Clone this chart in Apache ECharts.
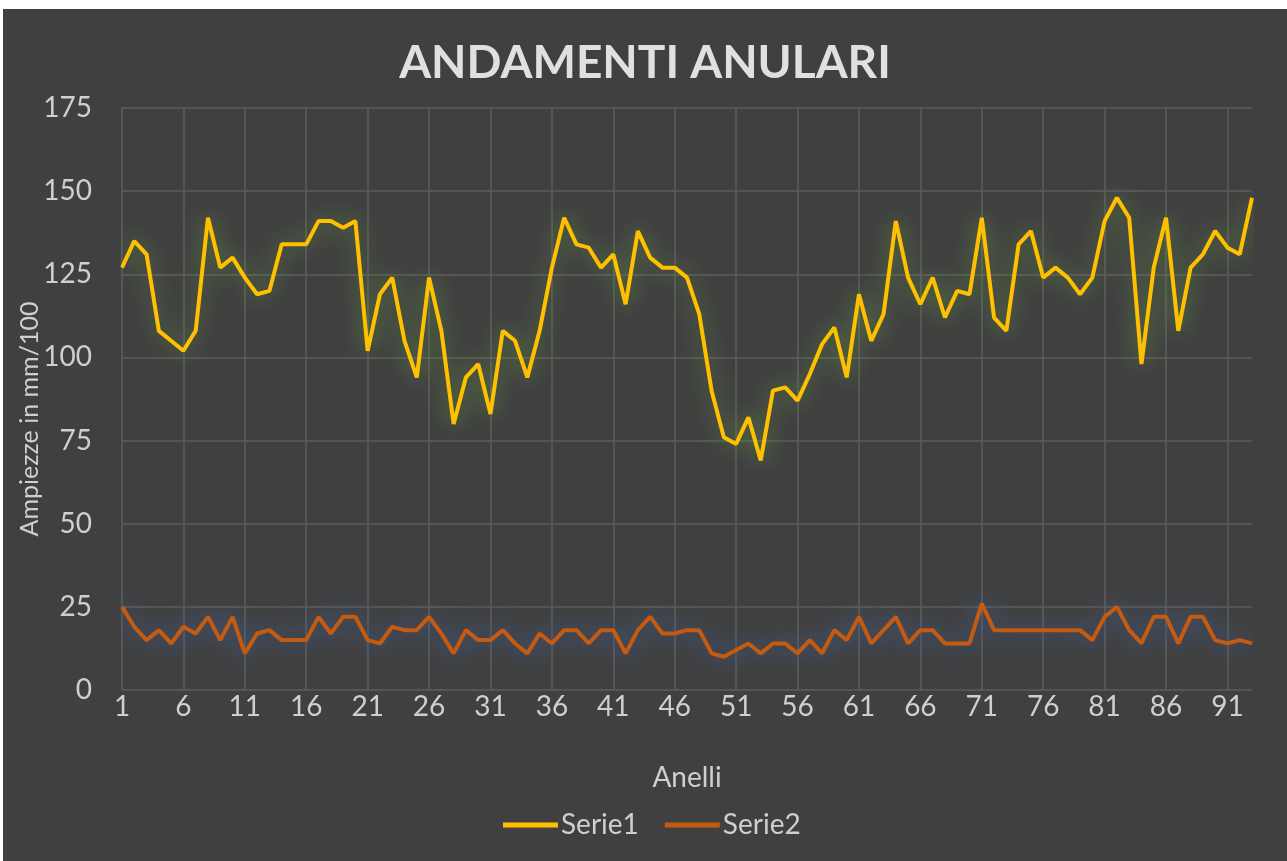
<!DOCTYPE html>
<html>
<head>
<meta charset="utf-8">
<title>Andamenti anulari</title>
<script src="https://cdn.jsdelivr.net/npm/echarts@6/dist/echarts.min.js"></script>
<style>
  html, body { margin: 0; padding: 0; background: #fff; }
  #main { position: absolute; left: 3px; top: 9px; width: 1284px; height: 852px; background: #404040; }
</style>
</head>
<body>
<div id="main"></div>
<script>
// anelli 1..93
var anelli = [];
for (var i = 1; i <= 93; i++) anelli.push(String(i));

var serie1 = [127, 135, 131, 108, 105, 102, 108, 142, 127, 130,
              124, 119, 120, 134, 134, 134, 141, 141, 139, 141,
              102, 119, 124, 105, 94, 124, 108, 80, 94, 98,
              83, 108, 105, 94, 108, 127, 142, 134, 133, 127,
              131, 116, 138, 130, 127, 127, 124, 113, 90, 76,
              74, 82, 69, 90, 91, 87, 95, 104, 109, 94,
              119, 105, 113, 141, 124, 116, 124, 112, 120, 119,
              142, 112, 108, 134, 138, 124, 127, 124, 119, 124,
              141, 148, 142, 98, 127, 142, 108, 127, 131, 138,
              133, 131, 148];

var serie2 = [25, 19, 15, 18, 14, 19, 17, 22, 15, 22,
              11, 17, 18, 15, 15, 15, 22, 17, 22, 22,
              15, 14, 19, 18, 18, 22, 17, 11, 18, 15,
              15, 18, 14, 11, 17, 14, 18, 18, 14, 18,
              18, 11, 18, 22, 17, 17, 18, 18, 11, 10,
              12, 14, 11, 14, 14, 11, 15, 11, 18, 15,
              22, 14, 18, 22, 14, 18, 18, 14, 14, 14,
              26, 18, 18, 18, 18, 18, 18, 18, 18, 15,
              22, 25, 18, 14, 22, 22, 14, 22, 22, 15,
              14, 15, 14];

var yTicks = [0, 25, 50, 75, 100, 125, 150, 175];

var chart = echarts.init(document.getElementById('main'));
var fontF = 'Lato, "Open Sans", sans-serif';
var txt = '#cfcfcf';

var option = {
  backgroundColor: '#404040',
  animation: false,
  title: {
    text: 'ANDAMENTI ANULARI',
    left: 'center',
    top: 26,
    textStyle: { color: '#e0e0e0', fontSize: 46, fontWeight: 'bold', fontFamily: fontF }
  },
  legend: {
    data: ['Serie1', 'Serie2'],
    left: 495,
    top: 797,
    icon: 'rect',
    itemWidth: 55,
    itemHeight: 5,
    itemGap: 26,
    textStyle: { color: txt, fontSize: 28, fontFamily: fontF, padding: [0, 0, 0, -2] }
  },
  grid: { left: 119, right: 35, top: 99, bottom: 171, outerBoundsMode: 'none' },
  xAxis: {
    type: 'category',
    data: anelli,
    boundaryGap: false,
    name: 'Anelli',
    nameLocation: 'middle',
    nameGap: 74,
    nameMoveOverlap: false,
    nameTextStyle: { color: txt, fontSize: 28, fontFamily: fontF },
    axisLine: { show: false },
    axisTick: { show: false },
    axisLabel: { interval: 4, color: txt, fontSize: 28, fontFamily: fontF, margin: 3 },
    splitLine: { show: true, interval: 4, lineStyle: { color: '#5c5c5c', width: 1.5 } }
  },
  yAxis: {
    type: 'value',
    min: yTicks[0],
    max: yTicks[yTicks.length - 1],
    interval: 25,
    name: 'Ampiezze in mm/100',
    nameLocation: 'middle',
    nameGap: 80,
    nameMoveOverlap: false,
    nameTextStyle: { color: txt, fontSize: 25, fontFamily: fontF, padding: [0, 40, 0, 0] },
    axisLine: { show: false },
    axisTick: { show: false },
    axisLabel: { color: txt, fontSize: 28, fontFamily: fontF, margin: 30 },
    splitLine: { lineStyle: { color: '#5c5c5c', width: 1.5 } }
  },
  series: [
    {
      name: 'Serie1',
      type: 'line',
      data: serie1,
      symbol: 'none',
      color: '#ffc000',
      lineStyle: { width: 4, color: '#ffc000', shadowBlur: 22, shadowColor: 'rgba(112,173,71,0.75)' }
    },
    {
      name: 'Serie2',
      type: 'line',
      data: serie2,
      symbol: 'none',
      color: '#c55a11',
      lineStyle: { width: 4, color: '#c55a11', shadowBlur: 22, shadowColor: 'rgba(68,114,196,0.8)' }
    }
  ]
};

chart.setOption(option);
</script>
</body>
</html>
